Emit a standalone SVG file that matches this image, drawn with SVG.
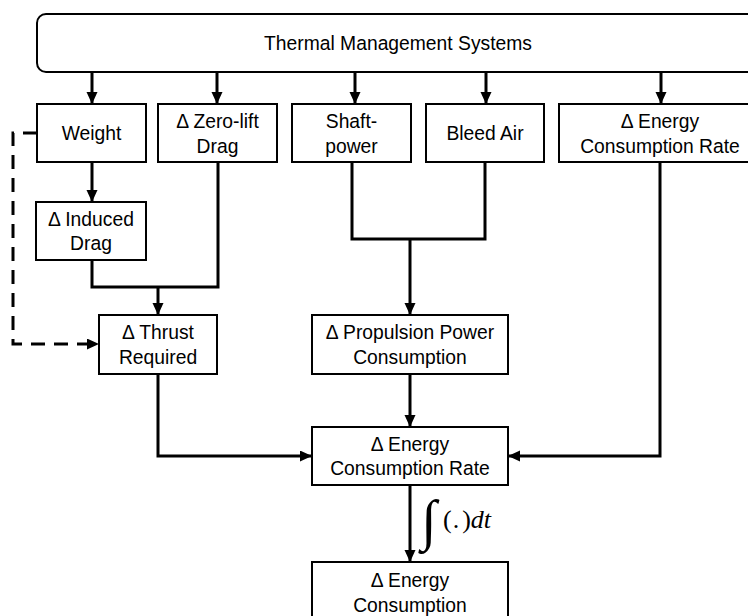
<svg xmlns="http://www.w3.org/2000/svg" width="748" height="616" viewBox="0 0 748 616">
<style>
.box{fill:#fff;stroke:#000;stroke-width:2}
.t{font-family:"Liberation Sans",Arial,sans-serif;font-size:19.3px;fill:#000;text-anchor:middle}
.c{fill:none;stroke:#000;stroke-width:3;stroke-linejoin:miter}
.a{marker-end:url(#ah)}
.d{stroke-dasharray:14 9}
.m{font-family:"Liberation Serif","DejaVu Serif",serif;fill:#000}
</style>
<defs>
<marker id="ah" markerUnits="userSpaceOnUse" markerWidth="13" markerHeight="12" refX="12" refY="5.5" orient="auto">
<path d="M0,0 L12,5.5 L0,11 z" fill="#000"/>
</marker>
</defs>
<rect width="748" height="616" fill="#fff"/>
<g id="connectors">
<path class="c a" d="M92,72 V104"/>
<path class="c a" d="M217,72 V104"/>
<path class="c a" d="M355,72 V104"/>
<path class="c a" d="M486,72 V104"/>
<path class="c a" d="M661,72 V104"/>
<path class="c a" d="M92,162 V202"/>
<path class="c" d="M92,260 V287 H218 V162"/>
<path class="c a" d="M158,287 V315"/>
<path class="c" d="M352,162 V239 H485 V162"/>
<path class="c a" d="M410,239 V315"/>
<path class="c a" d="M410,374 V427"/>
<path class="c a" d="M158,374 V456 H312"/>
<path class="c a" d="M660,162 V456 H508"/>
<path class="c a" d="M410,485 V562"/>
<path class="c d a" d="M37,133 H13 V344 H99"/>
<text class="m" x="421" y="539" font-size="56" font-style="italic">∫</text>
<text class="m" x="443" y="528" font-size="26">(<tspan dx="1">.</tspan><tspan dx="3">)</tspan><tspan font-style="italic">dt</tspan></text>
</g>
<g id="tms">
<rect class="box" x="37" y="14" width="725" height="58" rx="9"/>
<text class="t" x="398" y="50">Thermal Management Systems</text>
</g>
<g id="weight">
<rect class="box" x="37" y="104" width="109" height="58"/>
<text class="t" x="91.5" y="140">Weight</text>
</g>
<g id="zerolift">
<rect class="box" x="158" y="104" width="119" height="58"/>
<text class="t" x="217.5" y="128">Δ Zero-lift</text>
<text class="t" x="217.5" y="153">Drag</text>
</g>
<g id="shaft">
<rect class="box" x="292" y="104" width="119" height="58"/>
<text class="t" x="351.5" y="128">Shaft-</text>
<text class="t" x="351.5" y="153">power</text>
</g>
<g id="bleed">
<rect class="box" x="426" y="104" width="118" height="58"/>
<text class="t" x="485" y="140">Bleed Air</text>
</g>
<g id="energyRateTop">
<rect class="box" x="559" y="104" width="203" height="58"/>
<text class="t" x="660" y="128">Δ Energy</text>
<text class="t" x="660" y="153">Consumption Rate</text>
</g>
<g id="induced">
<rect class="box" x="36" y="202" width="110" height="58"/>
<text class="t" x="91" y="225.5">Δ Induced</text>
<text class="t" x="91" y="250">Drag</text>
</g>
<g id="thrust">
<rect class="box" x="99" y="315" width="118" height="59"/>
<text class="t" x="158" y="338.5">Δ Thrust</text>
<text class="t" x="158" y="363.5">Required</text>
</g>
<g id="propulsion">
<rect class="box" x="312" y="315" width="196" height="59"/>
<text class="t" x="410" y="338.5">Δ Propulsion Power</text>
<text class="t" x="410" y="363.5">Consumption</text>
</g>
<g id="energyRate">
<rect class="box" x="312" y="427" width="196" height="58"/>
<text class="t" x="410" y="450.5">Δ Energy</text>
<text class="t" x="410" y="475">Consumption Rate</text>
</g>
<g id="energy">
<rect class="box" x="312" y="562" width="196" height="58"/>
<text class="t" x="410" y="586.5">Δ Energy</text>
<text class="t" x="410" y="611.5">Consumption</text>
</g>
</svg>
